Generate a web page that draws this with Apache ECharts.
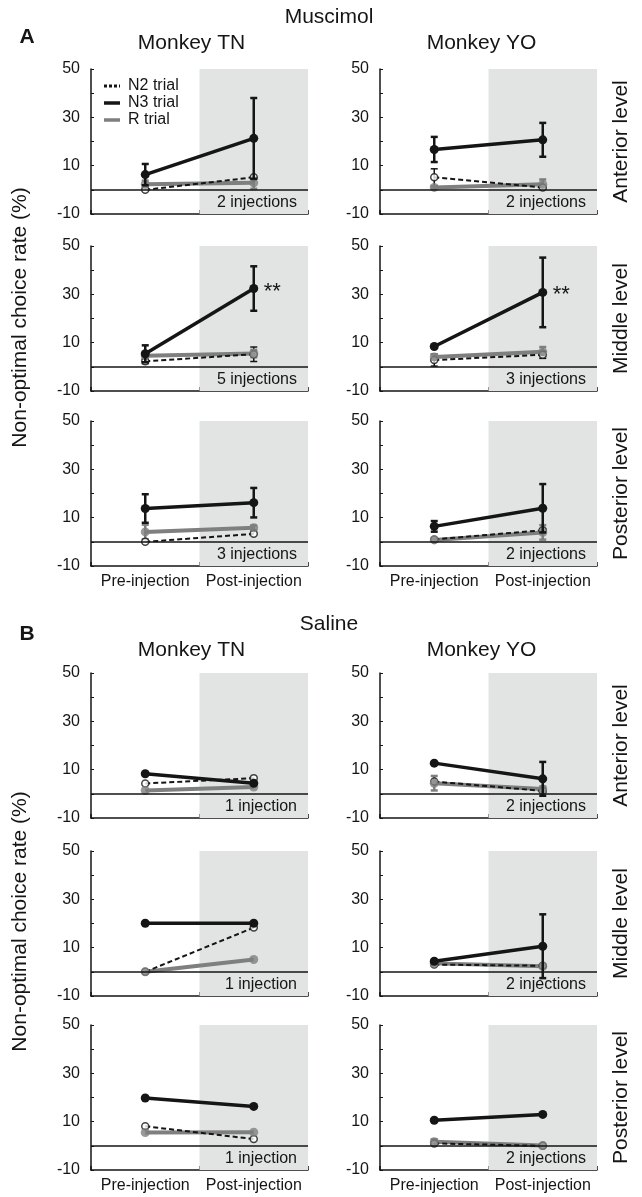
<!DOCTYPE html>
<html>
<head>
<meta charset="utf-8">
<script src="https://cdn.jsdelivr.net/npm/echarts@6/dist/echarts.min.js"></script>
<style>
html,body{margin:0;padding:0;background:#fff;}
#chart{width:642px;height:1197px;}
</style>
</head>
<body>
<div id="chart"></div>
<script>
// ---------------- DATA ----------------
const categories = ['Pre-injection', 'Post-injection'];
const sections = ['Muscimol', 'Saline'];
const sectionLetters = ['A', 'B'];
const monkeys = ['Monkey TN', 'Monkey YO'];
const levels = ['Anterior level', 'Middle level', 'Posterior level'];
const yTicks = [-10, 10, 30, 50];
const legendLabels = ['N2 trial', 'N3 trial', 'R trial'];
const yAxisTitle = 'Non-optimal choice rate (%)';

// panel order: section A (TN ant, YO ant, TN mid, YO mid, TN post, YO post), then section B
const injections = [2, 2, 5, 3, 3, 2, 1, 2, 1, 2, 1, 2];

const n3Mean = [[6.3, 21.3], [16.7, 20.7], [5.4, 32.4], [8.4, 30.8], [13.8, 16.2], [6.4, 13.9],
                [8.3, 4.4], [12.7, 6.2], [20.1, 20.1], [4.4, 10.6], [19.8, 16.3], [10.6, 13.0]];
const n3Err  = [[4.4, 16.7], [5.2, 7.0], [3.5, 9.2], [0, 14.4], [5.9, 6.1], [2.2, 10.0],
                [0, 0], [0, 7.0], [0, 0], [0, 13.2], [0, 0], [0, 0]];
const n2Mean = [[0, 5.2], [5.2, 1.0], [2.3, 5.2], [2.8, 5.0], [0, 3.3], [1.0, 4.8],
                [4.3, 6.5], [5.1, 1.2], [0, 18.3], [3.0, 2.5], [8.1, 2.8], [1.0, 0]];
const n2Err  = [[0, 0], [3.5, 0], [1, 3.0], [2.5, 1.5], [0, 0], [0, 0.5],
                [0, 0], [0, 0], [0, 0], [0.5, 0], [0, 0], [0, 0]];
const rMean  = [[2.3, 2.9], [1.0, 2.3], [4.6, 5.5], [4.1, 6.2], [4.1, 5.8], [0.8, 3.9],
                [1.4, 2.8], [4.4, 2.0], [0, 5.1], [3.5, 2.3], [5.5, 5.6], [1.7, 0.1]];
const rErr   = [[1.5, 2.5], [0.5, 2.0], [1, 1.5], [1, 2.0], [3, 1], [0.5, 3],
                [0, 0], [3, 1], [0, 0], [0.5, 0.5], [0, 0], [1, 0]];
// significance marks: [panel, category index, text]
const stars = [[2, 1, '**'], [3, 1, '**']];

// ---------------- LAYOUT ----------------
const Y_MIN = -10, Y_MAX = 50;
const gridTops = [69, 246, 421, 673, 851, 1025];
const gridH = 145;
const gridLefts = [91, 380];
const gridW = 217;
const FONT = 'Liberation Sans, Arial, sans-serif';
const BLACK = '#151515', GRAY = '#7f7f7f', SHADE = '#e2e3e3';

const chart = echarts.init(document.getElementById('chart'), null, {renderer: 'canvas'});

const grids = [], xAxes = [], yAxes = [], series = [], graphics = [];

function errSeries(p, means, errs, color, width, z) {
  const data = [];
  for (let i = 0; i < 2; i++) if (errs[p][i] > 0) data.push([i, means[p][i], errs[p][i]]);
  return {
    type: 'custom', xAxisIndex: p, yAxisIndex: p, z: z, silent: true,
    data: data,
    renderItem: function (params, api) {
      const x = api.value(0), m = api.value(1), e = api.value(2);
      const top = api.coord([x, m + e]);
      const bot = api.coord([x, m - e]);
      const cap = 3.5;
      const st = {stroke: color, lineWidth: width};
      return {type: 'group', children: [
        {type: 'line', shape: {x1: top[0], y1: top[1], x2: bot[0], y2: bot[1]}, style: st},
        {type: 'line', shape: {x1: top[0] - cap, y1: top[1], x2: top[0] + cap, y2: top[1]}, style: st},
        {type: 'line', shape: {x1: bot[0] - cap, y1: bot[1], x2: bot[0] + cap, y2: bot[1]}, style: st}
      ]};
    }
  };
}

function lineOnly(p, name, means, lineStyle, z, extra) {
  return Object.assign({
    type: 'line', name: name, xAxisIndex: p, yAxisIndex: p, z: z, data: means[p],
    showSymbol: false, symbol: 'none', silent: true, animation: false, lineStyle: lineStyle
  }, extra || {});
}
function dots(p, means, size, itemStyle, z) {
  return {
    type: 'scatter', xAxisIndex: p, yAxisIndex: p, z: z, silent: true, animation: false,
    data: means[p].map((v, i) => [i, v]), symbol: 'circle', symbolSize: size, itemStyle: itemStyle
  };
}

for (let p = 0; p < 12; p++) {
  const sec = Math.floor(p / 6);
  const row = Math.floor((p % 6) / 2);
  const col = p % 2;
  const top = gridTops[sec * 3 + row];
  const isBottom = row === 2;
  grids.push({left: gridLefts[col], top: top, width: gridW, height: gridH, containLabel: false});
  xAxes.push({
    type: 'category', gridIndex: p, data: categories, boundaryGap: true,
    axisLine: {show: true, onZero: false, lineStyle: {color: BLACK, width: 1.5}},
    axisTick: {show: true, inside: true, length: 4, lineStyle: {color: BLACK, width: 1.5}},
    axisLabel: {show: isBottom, interval: 0, color: BLACK, fontSize: 16, fontFamily: FONT, margin: 8},
    splitLine: {show: false}
  });
  yAxes.push({
    type: 'value', gridIndex: p, min: Y_MIN, max: Y_MAX, interval: 10,
    axisLine: {show: true, lineStyle: {color: BLACK, width: 1.5}},
    axisTick: {show: true, inside: true, length: 3, lineStyle: {color: BLACK, width: 1}},
    axisLabel: {color: BLACK, fontSize: 16, fontFamily: FONT, margin: 11,
      formatter: v => (yTicks.indexOf(v) >= 0 ? String(v) : '')},
    splitLine: {show: false}
  });

  // shaded post-injection band + injection count label
  const injText = injections[p] + (injections[p] === 1 ? ' injection' : ' injections');
  series.push({
    type: 'custom', xAxisIndex: p, yAxisIndex: p, z: 1, silent: true,
    data: [[1]],
    renderItem: function (params, api) {
      const c = api.value(0);
      const t = api.coord([c, Y_MAX]);
      const b = api.coord([c, Y_MIN]);
      const w = api.size([1, 0])[0];
      const ly = api.coord([c, -5])[1];
      return {type: 'group', children: [
        {type: 'rect', shape: {x: t[0] - w / 2, y: t[1], width: w, height: b[1] - t[1]}, style: {fill: SHADE}},
        {type: 'text', style: {text: injText, x: t[0] + w / 2 - 11, y: ly + 1, align: 'right', verticalAlign: 'middle',
          font: '16px ' + FONT, fill: BLACK}}
      ]};
    }
  });

  // error bars
  series.push(errSeries(p, n2Mean, n2Err, BLACK, 1.5, 2));
  series.push(errSeries(p, rMean, rErr, GRAY, 2.5, 2));
  // R line, then N2 dashed line over it
  series.push(lineOnly(p, 'R trial', rMean, {color: GRAY, width: 4}, 2, {
    markLine: {silent: true, symbol: 'none', animation: false, label: {show: false},
      lineStyle: {color: BLACK, width: 1.5, type: 'solid'}, data: [{yAxis: 0}]}
  }));
  series.push(lineOnly(p, 'N2 trial', n2Mean, {color: BLACK, width: 2, type: [5, 3]}, 3));
  // markers: N2 open circles, R gray dots on top
  series.push(dots(p, n2Mean, 7, {color: '#fff', borderColor: BLACK, borderWidth: 1.5}, 3));
  series.push(dots(p, rMean, 9, {color: GRAY, borderWidth: 0}, 3));
  // N3 trial
  series.push(errSeries(p, n3Mean, n3Err, BLACK, 2.5, 4));
  series.push({
    type: 'line', name: 'N3 trial', xAxisIndex: p, yAxisIndex: p, z: 4, data: n3Mean[p],
    symbol: 'circle', symbolSize: 9, silent: true, animation: false,
    lineStyle: {color: BLACK, width: 3.5}, itemStyle: {color: BLACK, borderWidth: 0}
  });
}

// significance stars
stars.forEach(s => {
  const p = s[0];
  series.push({
    type: 'custom', xAxisIndex: p, yAxisIndex: p, z: 5, silent: true,
    data: [[s[1], n3Mean[p][s[1]]]],
    renderItem: function (params, api) {
      const c = api.coord([api.value(0), api.value(1)]);
      return {type: 'text', style: {text: s[2], x: c[0] + 10, y: c[1] + 3, align: 'left', verticalAlign: 'middle',
        font: '22px ' + FONT, fill: BLACK}};
    }
  });
});

// ---------------- TEXT ----------------
const secTitleY = [17, 624];
const letterY = [37, 634];
const monkeyY = [43, 650];
sections.forEach((s, i) => {
  graphics.push({type: 'text', x: 329, y: secTitleY[i], style: {text: s, font: '21px ' + FONT, fill: BLACK,
    align: 'center', verticalAlign: 'middle'}});
  graphics.push({type: 'text', x: 27, y: letterY[i], style: {text: sectionLetters[i], font: 'bold 21px ' + FONT,
    fill: BLACK, align: 'center', verticalAlign: 'middle'}});
  monkeys.forEach((m, j) => {
    graphics.push({type: 'text', x: gridLefts[j] + gridW / 2 - (j === 0 ? 8 : 7), y: monkeyY[i],
      style: {text: m, font: '21px ' + FONT, fill: BLACK, align: 'center', verticalAlign: 'middle'}});
  });
  // y axis title
  const midY = (gridTops[i * 3] + gridTops[i * 3 + 2] + gridH) / 2;
  graphics.push({type: 'text', x: 20, y: midY, rotation: Math.PI / 2,
    style: {text: yAxisTitle, font: '21px ' + FONT, fill: BLACK, align: 'center', verticalAlign: 'middle'}});
  levels.forEach((l, r) => {
    graphics.push({type: 'text', x: 621, y: gridTops[i * 3 + r] + gridH / 2, rotation: Math.PI / 2,
      style: {text: l, font: '21px ' + FONT, fill: BLACK, align: 'center', verticalAlign: 'middle'}});
  });
});

// legend (panel A, Monkey TN, anterior)
const legY = [86, 103, 120];
const legStyle = [
  {stroke: BLACK, lineWidth: 3, lineDash: [3, 2]},
  {stroke: BLACK, lineWidth: 3.5},
  {stroke: GRAY, lineWidth: 3.5}
];
legendLabels.forEach((t, i) => {
  graphics.push({type: 'line', shape: {x1: 104, y1: legY[i], x2: 120, y2: legY[i]}, style: legStyle[i], z: 10});
  graphics.push({type: 'text', x: 128, y: legY[i], z: 10, style: {text: t, font: '16px ' + FONT, fill: BLACK,
    align: 'left', verticalAlign: 'middle'}});
});

chart.setOption({
  animation: false,
  backgroundColor: '#ffffff',
  grid: grids,
  xAxis: xAxes,
  yAxis: yAxes,
  series: series,
  graphic: {elements: graphics}
});
</script>
</body>
</html>
